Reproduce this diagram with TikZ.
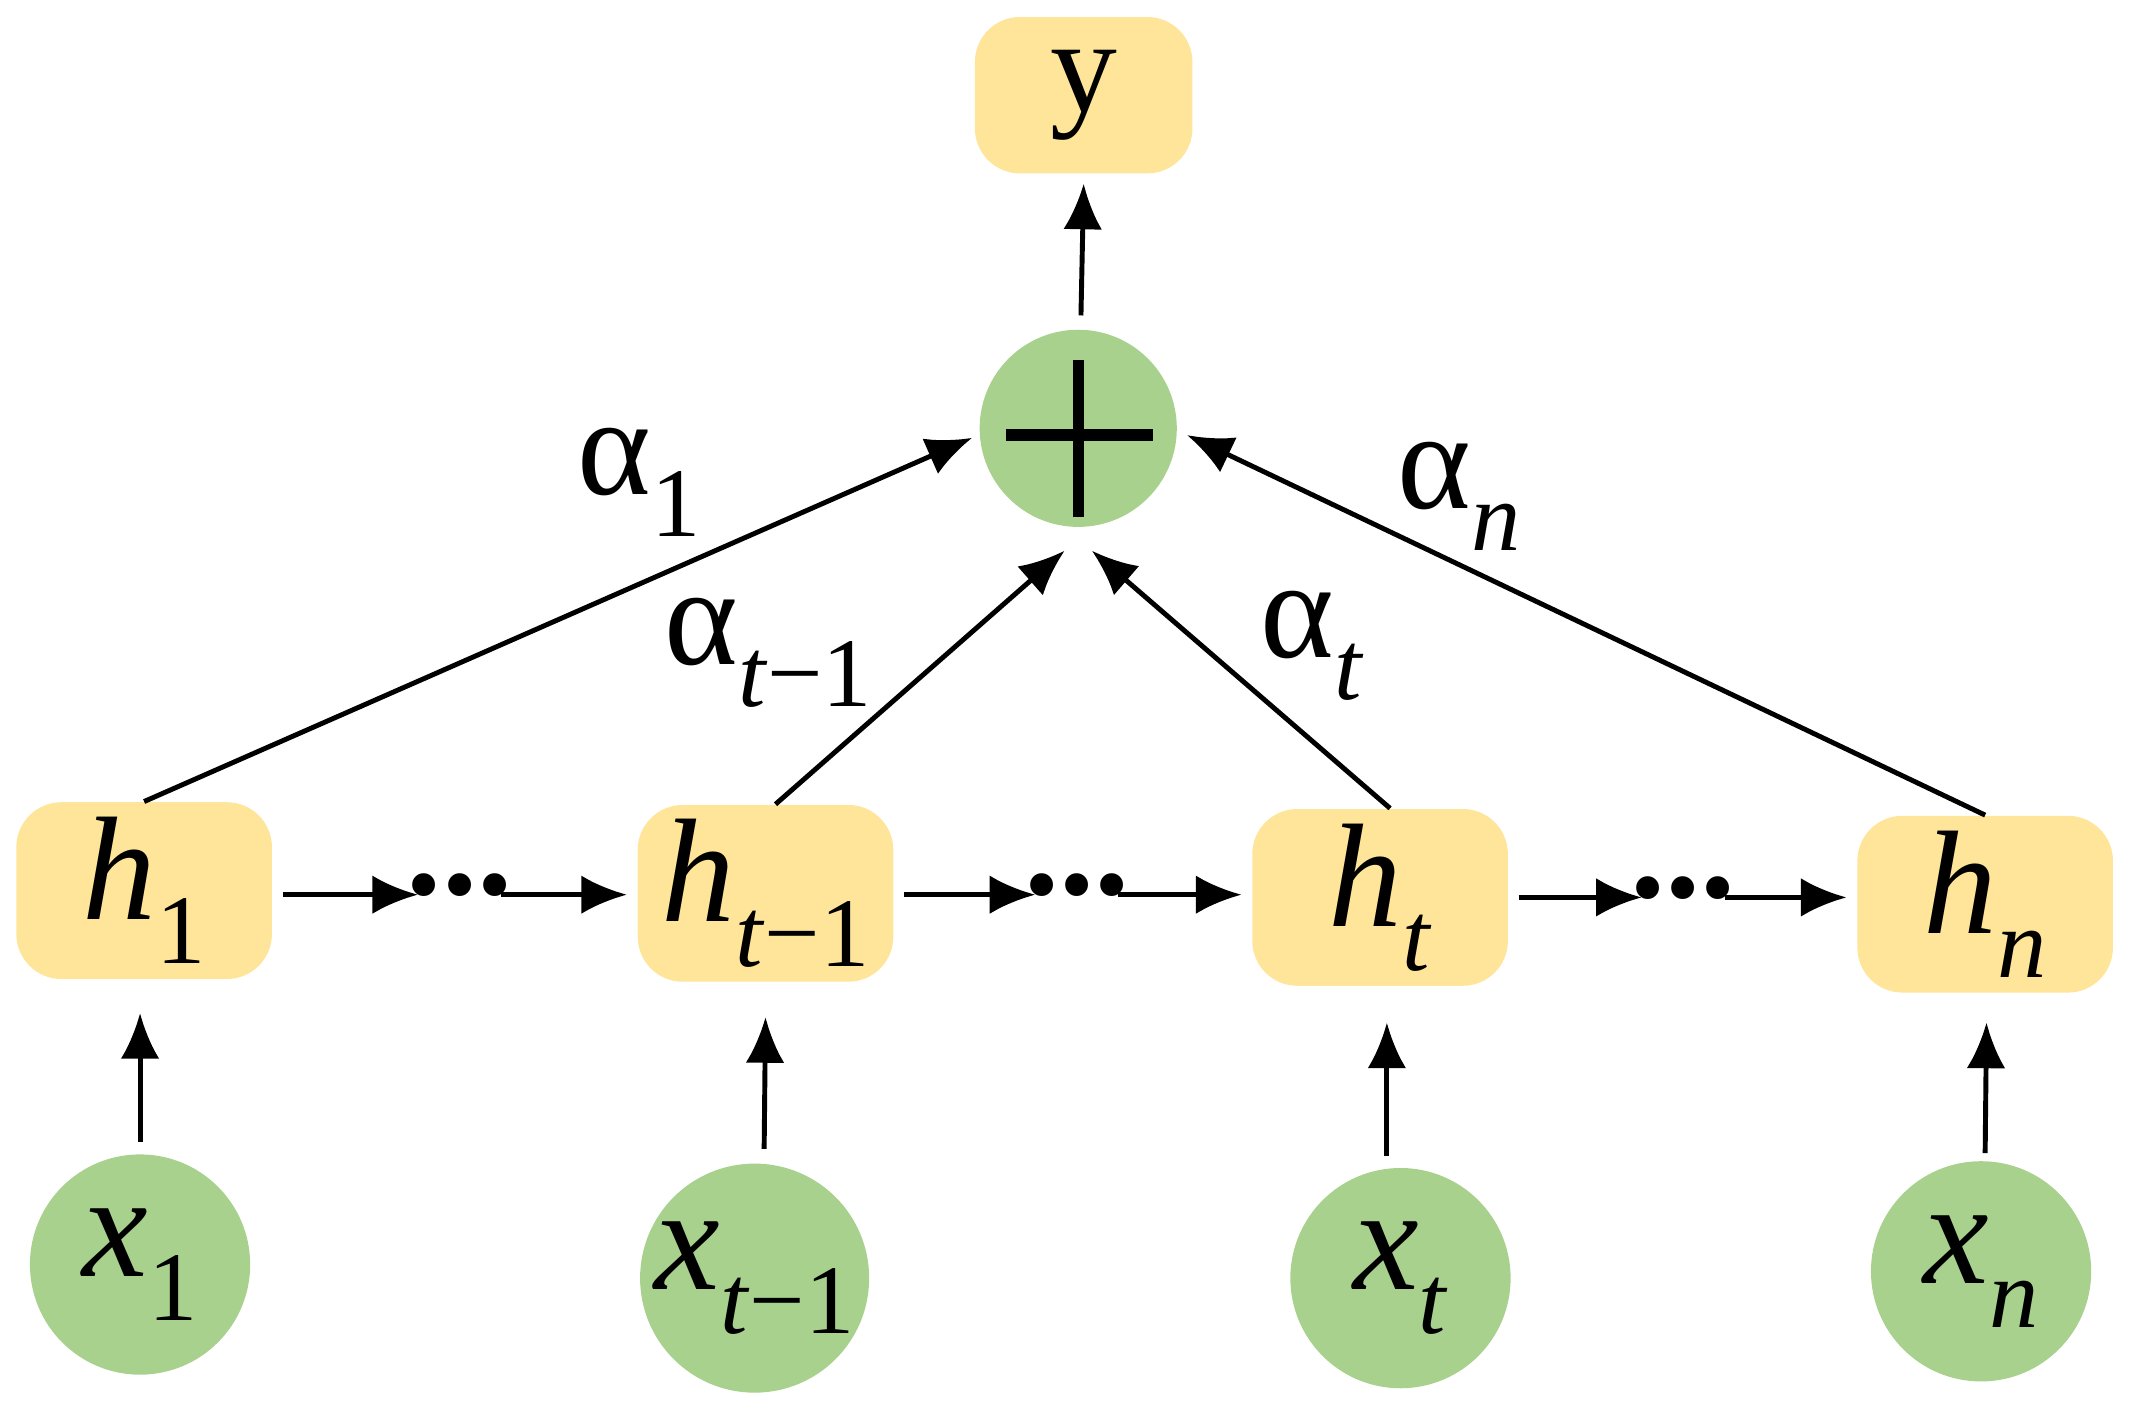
\documentclass[tikz,border=0pt]{standalone}
\usepackage{fontspec}
\setmainfont{Liberation Serif}
\usetikzlibrary{arrows.meta}
\definecolor{hy}{HTML}{FFE599}
\definecolor{gc}{HTML}{A9D18E}
\newcommand{\mysb}[1]{\raisebox{-0.3em}{\fontsize{28}{32}\selectfont #1}}
\begin{document}
\begin{tikzpicture}[x=0.0136cm,y=-0.0136cm,
  hbox/.style={fill=hy,rounded corners=0.45cm,minimum width=188*0.0136cm,minimum height=130*0.0136cm,inner sep=0pt,font=\fontsize{42}{46}\selectfont},
  xc/.style={circle,fill=gc,minimum size=162*0.0136cm,inner sep=0pt,font=\fontsize{42}{46}\selectfont},
  arr/.style={-{Latex[length=13pt,width=11pt]},line width=1.4pt},
  lab/.style={font=\fontsize{40}{44}\selectfont,inner sep=0pt}]
\useasboundingbox (0,0) rectangle (1568,1040);
\node[hbox,minimum width=160*0.0136cm,minimum height=115*0.0136cm,font=\fontsize{38}{42}\selectfont] (y) at (797,70) {y};
\node[circle,fill=gc,minimum size=145*0.0136cm,inner sep=0pt] (p) at (793,315) {};
\draw[line width=3.2pt] (740,320) -- (848,320) (793,265) -- (793,380);
\node[hbox] (h1) at (106,655) {\textit{h}\mysb{1}};
\node[hbox] (h2) at (563,657) {\textit{h}\mysb{\textit{t}−1}};
\node[hbox] (h3) at (1015,660) {\textit{h}\mysb{\textit{t}}};
\node[hbox] (h4) at (1460,665) {\textit{h}\mysb{\textit{n}}};
\node[xc] (x1) at (103,930) {\textit{x}\mysb{1}};
\node[xc] (x2) at (555,940) {\textit{x}\mysb{\textit{t}−1}};
\node[xc] (x3) at (1030,940) {\textit{x}\mysb{\textit{t}}};
\node[xc] (x4) at (1457,935) {\textit{x}\mysb{\textit{n}}};
\coordinate (a1) at (103,840); \coordinate (b1) at (103,745);
\coordinate (a2) at (562,845); \coordinate (b2) at (563,748);
\coordinate (a3) at (1020,850); \coordinate (b3) at (1020,752);
\coordinate (a4) at (1460,848); \coordinate (b4) at (1461,752);
\foreach \i in {1,2,3,4}{\draw[arr] (a\i) -- (b\i);}
\coordinate (py) at (795,232); \coordinate (yb) at (797,135);
\draw[arr] (py) -- (yb);
\coordinate (c1) at (715,322); \coordinate (c2) at (783,405);
\coordinate (c3) at (803,405); \coordinate (c4) at (873,320);
\draw[arr] (h1.north) -- (c1);
\draw[arr] ([xshift=0.1cm]h2.north) -- (c2);
\draw[arr] ([xshift=0.1cm]h3.north) -- (c3);
\draw[arr] (h4.north) -- (c4);
\node[lab] at (470,355) {α\mysb{1}};
\node[lab] at (565,480) {α\mysb{\textit{t}−1}};
\node[lab] at (965,475) {α\mysb{\textit{t}}};
\node[lab] at (1073,365) {α\mysb{\textit{n}}};
\foreach \a/\b/\d/\yy in {h1/h2/338/658,h2/h3/792/658,h3/h4/1238/660}{
  \node[inner sep=0pt,minimum width=60*0.0136cm] (d\a) at (\d,\yy) {};
  \node[font=\fontsize{40}{44}\selectfont\bfseries,inner sep=0pt] at (\d,\yy-7) {...};
  \coordinate (s\a) at ([xshift=0.1cm]\a.east |- d\a);
  \coordinate (e\a) at ([xshift=-0.1cm]\b.west |- d\a);
  \draw[arr] (s\a) -- (d\a.west);
  \draw[arr] (d\a.east) -- (e\a);}
\end{tikzpicture}
\end{document}
